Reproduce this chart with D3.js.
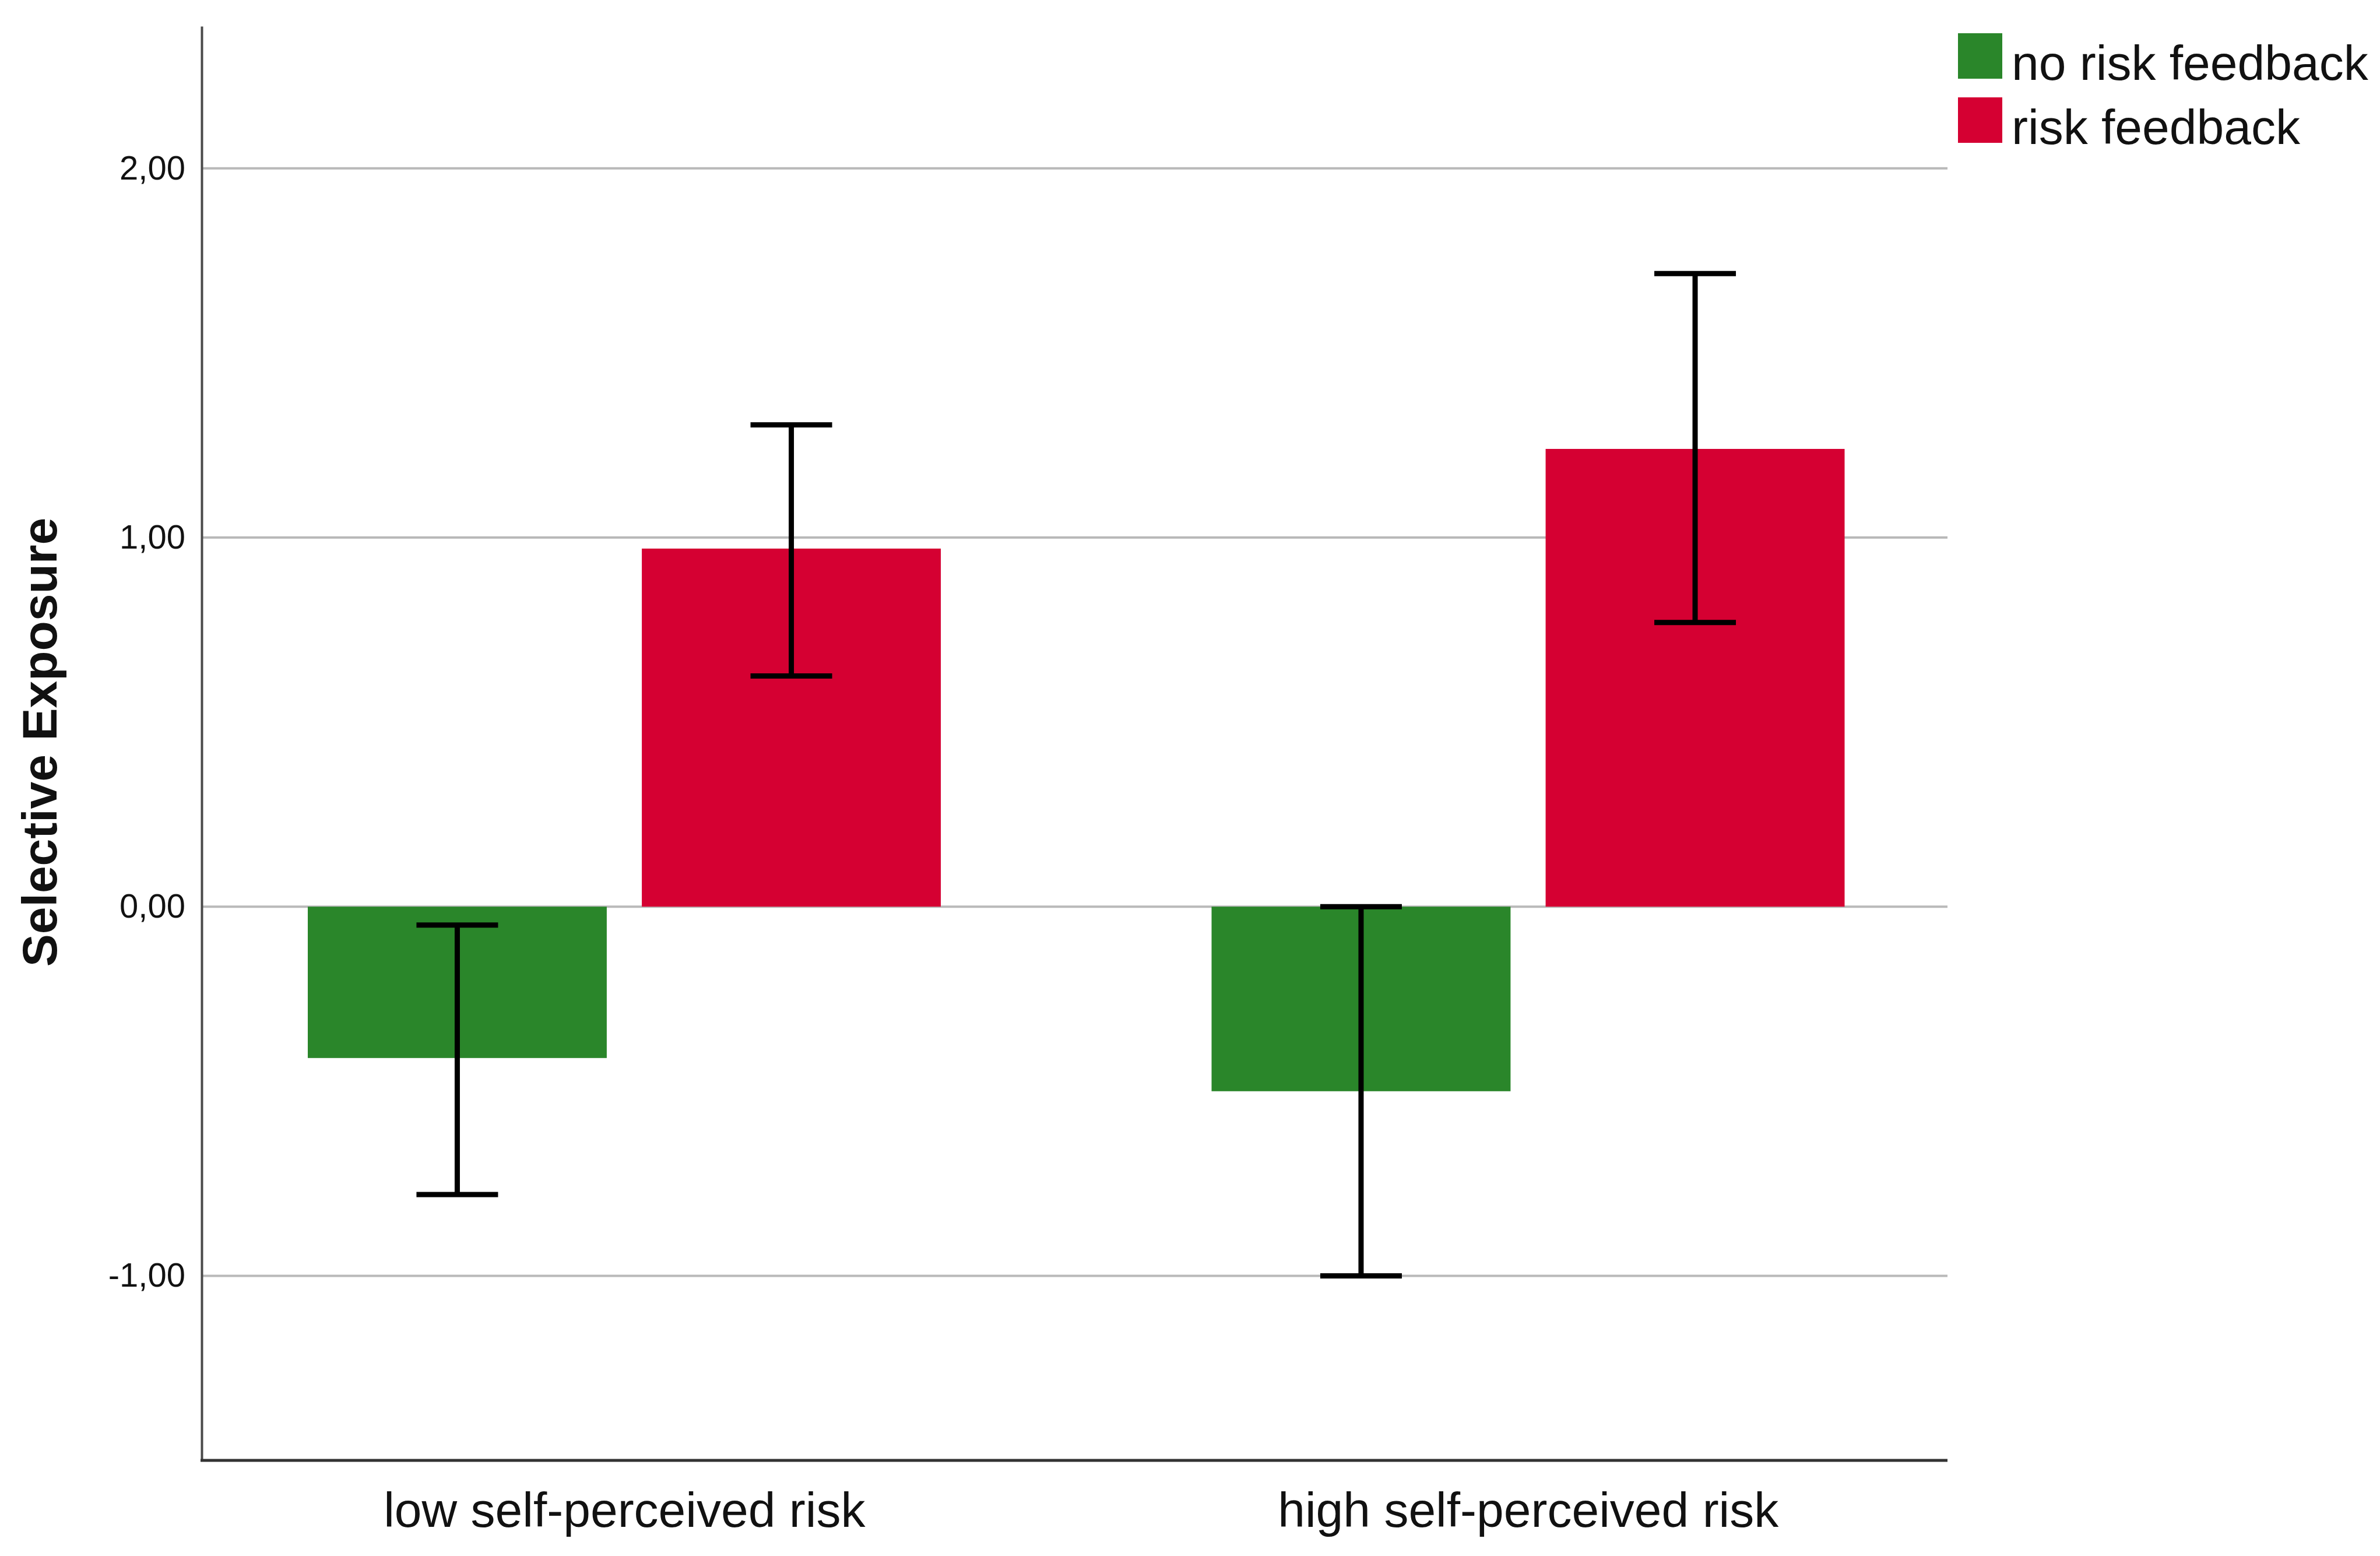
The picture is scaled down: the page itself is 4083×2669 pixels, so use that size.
<!DOCTYPE html>
<html>
<head>
  <meta charset="utf-8">
  <title>Selective Exposure by risk feedback</title>
  <script src="https://d3js.org/d3.v7.min.js"></script>
  <style>
    body { margin: 0; background: #fff; }
    text { font-family: "Liberation Sans", Arial, sans-serif; }
  </style>
</head>
<body>

<div id="chart"></div>

<script>
// data (means with error bars)
const categories = ["low self-perceived risk", "high self-perceived risk"];
const series = ["no risk feedback", "risk feedback"];
const colors = ["#2a862a", "#d50032"];
const noFeedback = [-0.41, -0.50];
const noFeedbackLow = [-0.78, -1.00];
const noFeedbackHigh = [-0.05, 0.00];
const feedback = [0.97, 1.24];
const feedbackLow = [0.625, 0.77];
const feedbackHigh = [1.305, 1.715];
const yTicks = [-1, 0, 1, 2];

const W = 4083, H = 2669;
const plot = { left: 346, right: 3341, top: 45, bottom: 2505 };

const svg = d3.select("#chart")
  .append("svg")
  .attr("width", W)
  .attr("height", H)
  .style("background", "#fff");

const y = d3.scaleLinear()
  .domain([-1.5, 2.385])
  .range([plot.bottom, plot.top]);

const x0 = d3.scaleBand()
  .domain(categories)
  .range([296, 3397]);

const x1 = d3.scaleBand()
  .domain(series)
  .range([232, 1318])
  .paddingInner(0.105);

// gridlines
svg.append("g")
  .selectAll("line")
  .data(yTicks)
  .join("line")
  .attr("x1", plot.left)
  .attr("x2", plot.right)
  .attr("y1", d => y(d))
  .attr("y2", d => y(d))
  .attr("stroke", "#b9b9b9")
  .attr("stroke-width", 4);

// rows per category
const rows = categories.map((c, i) => ({
  cat: c,
  vals: [
    { s: series[0], v: noFeedback[i], lo: noFeedbackLow[i], hi: noFeedbackHigh[i], col: colors[0] },
    { s: series[1], v: feedback[i], lo: feedbackLow[i], hi: feedbackHigh[i], col: colors[1] }
  ]
}));

const groups = svg.append("g")
  .selectAll("g")
  .data(rows)
  .join("g")
  .attr("transform", d => `translate(${x0(d.cat)},0)`);

groups.selectAll("rect")
  .data(d => d.vals)
  .join("rect")
  .attr("x", d => x1(d.s))
  .attr("width", x1.bandwidth())
  .attr("y", d => y(Math.max(0, d.v)))
  .attr("height", d => Math.abs(y(d.v) - y(0)))
  .attr("fill", d => d.col);

// error bars
const capHalf = 70;
const err = groups.selectAll("g.err")
  .data(d => d.vals)
  .join("g")
  .attr("class", "err")
  .attr("stroke", "#000")
  .attr("stroke-width", 9);

err.append("line")
  .attr("x1", d => x1(d.s) + x1.bandwidth() / 2)
  .attr("x2", d => x1(d.s) + x1.bandwidth() / 2)
  .attr("y1", d => y(d.lo))
  .attr("y2", d => y(d.hi));

err.append("line")
  .attr("x1", d => x1(d.s) + x1.bandwidth() / 2 - capHalf)
  .attr("x2", d => x1(d.s) + x1.bandwidth() / 2 + capHalf)
  .attr("y1", d => y(d.hi))
  .attr("y2", d => y(d.hi));

err.append("line")
  .attr("x1", d => x1(d.s) + x1.bandwidth() / 2 - capHalf)
  .attr("x2", d => x1(d.s) + x1.bandwidth() / 2 + capHalf)
  .attr("y1", d => y(d.lo))
  .attr("y2", d => y(d.lo));

// y axis, comma decimals and a plain hyphen for negatives
const yAxis = svg.append("g")
  .attr("transform", `translate(${plot.left},0)`)
  .call(d3.axisLeft(y)
    .tickValues(yTicks)
    .tickSize(0)
    .tickSizeOuter(0)
    .tickPadding(28)
    .tickFormat(d => d.toFixed(2).replace(".", ",")));

yAxis.select(".domain")
  .attr("stroke", "#4a4a4a")
  .attr("stroke-width", 4);

yAxis.selectAll("text")
  .attr("font-size", 58)
  .attr("fill", "#111")
  .style("font-family", '"Liberation Sans", Arial, sans-serif');

// x axis
const xAxis = svg.append("g")
  .attr("transform", `translate(0,${plot.bottom})`)
  .call(d3.axisBottom(x0).tickSize(0).tickPadding(54));

xAxis.select(".domain").remove();
xAxis.append("line")
  .attr("x1", plot.left - 2)
  .attr("x2", plot.right)
  .attr("stroke", "#333")
  .attr("stroke-width", 5);

xAxis.selectAll("text")
  .attr("font-size", 84)
  .attr("fill", "#111")
  .style("font-family", '"Liberation Sans", Arial, sans-serif');

// y title
svg.append("text")
  .attr("transform", "translate(97,1273) rotate(-90)")
  .attr("text-anchor", "middle")
  .attr("font-size", 84)
  .attr("font-weight", "bold")
  .attr("fill", "#111")
  .text("Selective Exposure");

// legend
const legend = svg.append("g")
  .selectAll("g")
  .data(series)
  .join("g")
  .attr("transform", (d, i) => `translate(3359,${57 + i * 110})`);

legend.append("rect")
  .attr("width", 76)
  .attr("height", 78)
  .attr("fill", (d, i) => colors[i]);

legend.append("text")
  .attr("x", 92)
  .attr("y", 80)
  .attr("font-size", 84)
  .attr("fill", "#111")
  .text(d => d);
</script>

</body>
</html>
